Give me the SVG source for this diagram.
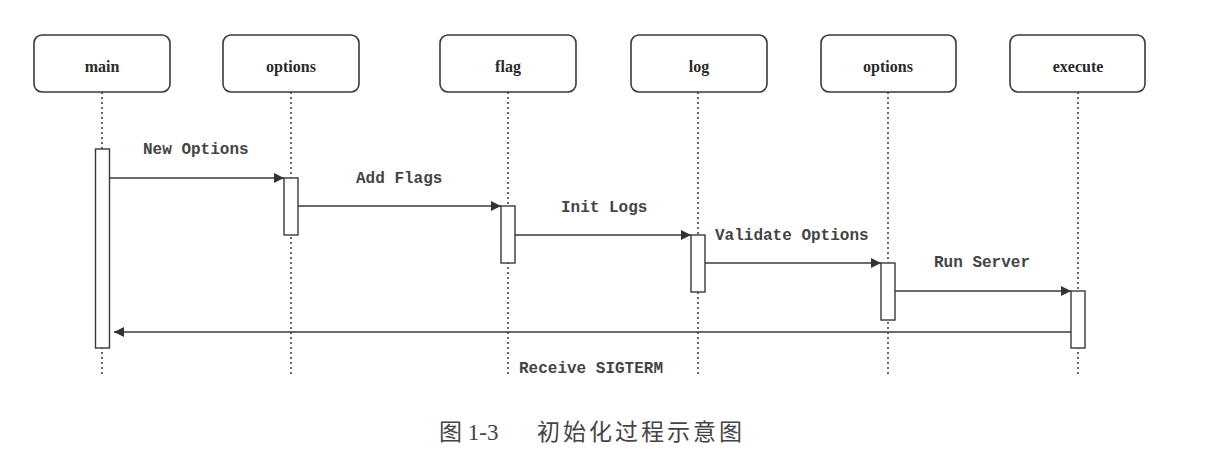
<svg xmlns="http://www.w3.org/2000/svg" width="1209" height="458" viewBox="0 0 1209 458">
<defs>
<style>
.box{fill:#fff;stroke:#3a3a3a;stroke-width:1.6}
.lbl{font-family:"Liberation Serif","Times New Roman",serif;font-weight:bold;font-size:16px;fill:#2a2a2a;text-anchor:middle}
.life{stroke:#444;stroke-width:1.6;stroke-dasharray:2 3;fill:none}
.act{fill:#fff;stroke:#3a3a3a;stroke-width:1.4}
.msg{stroke:#3a3a3a;stroke-width:1.6;fill:none}
.mt{font-family:"Liberation Mono","Courier New",monospace;font-weight:bold;font-size:16px;fill:#444}
.cap{font-family:"Liberation Serif","Noto Sans CJK SC",serif;font-size:23px;fill:#444}
</style>
<marker id="ah" markerWidth="10" markerHeight="10" refX="10" refY="5" orient="auto" markerUnits="userSpaceOnUse">
<path d="M0,0 L10,5 L0,10 Z" fill="#333"/>
</marker>
</defs>
<rect width="1209" height="458" fill="#fff"/>
<g id="lifelines">
<line class="life" x1="102" y1="92" x2="102" y2="377"/>
<line class="life" x1="291" y1="92" x2="291" y2="377"/>
<line class="life" x1="508" y1="92" x2="508" y2="377"/>
<line class="life" x1="698" y1="92" x2="698" y2="377"/>
<line class="life" x1="888" y1="92" x2="888" y2="377"/>
<line class="life" x1="1078" y1="92" x2="1078" y2="377"/>
</g>
<g id="node-main">
<rect class="box" x="34" y="35" width="136" height="57" rx="8"/>
<text class="lbl" x="102" y="72">main</text>
<rect class="act" x="95.5" y="149" width="14" height="199"/>
</g>
<g id="node-options">
<rect class="box" x="223" y="35" width="136" height="57" rx="8"/>
<text class="lbl" x="291" y="72">options</text>
<rect class="act" x="284" y="178" width="14" height="57"/>
</g>
<g id="node-flag">
<rect class="box" x="440" y="35" width="136" height="57" rx="8"/>
<text class="lbl" x="508" y="72">flag</text>
<rect class="act" x="501" y="206" width="14" height="57"/>
</g>
<g id="node-log">
<rect class="box" x="631" y="35" width="136" height="57" rx="8"/>
<text class="lbl" x="699" y="72">log</text>
<rect class="act" x="691" y="235" width="14" height="57"/>
</g>
<g id="node-options2">
<rect class="box" x="821" y="35" width="135" height="57" rx="8"/>
<text class="lbl" x="888" y="72">options</text>
<rect class="act" x="881" y="263" width="14" height="57"/>
</g>
<g id="node-execute">
<rect class="box" x="1010" y="35" width="135" height="57" rx="8"/>
<text class="lbl" x="1078" y="72">execute</text>
<rect class="act" x="1071" y="291" width="14" height="57"/>
</g>
<g id="connectors">
<line class="msg" x1="109.5" y1="178" x2="284" y2="178" marker-end="url(#ah)"/>
<text class="mt" x="143" y="154">New Options</text>
<line class="msg" x1="298" y1="206" x2="501" y2="206" marker-end="url(#ah)"/>
<text class="mt" x="356" y="183">Add Flags</text>
<line class="msg" x1="515" y1="235" x2="691" y2="235" marker-end="url(#ah)"/>
<text class="mt" x="561" y="212">Init Logs</text>
<line class="msg" x1="705" y1="263" x2="881" y2="263" marker-end="url(#ah)"/>
<text class="mt" x="715" y="240">Validate Options</text>
<line class="msg" x1="895" y1="291" x2="1071" y2="291" marker-end="url(#ah)"/>
<text class="mt" x="934" y="267">Run Server</text>
<line class="msg" x1="1071" y1="332" x2="114" y2="332" marker-end="url(#ah)"/>
<text class="mt" x="519" y="373">Receive SIGTERM</text>
</g>
<g id="caption">
<text class="cap" x="439" y="440">图 1-3</text>
<text class="cap" x="537" y="440" letter-spacing="3">初始化过程示意图</text>
</g>
</svg>
